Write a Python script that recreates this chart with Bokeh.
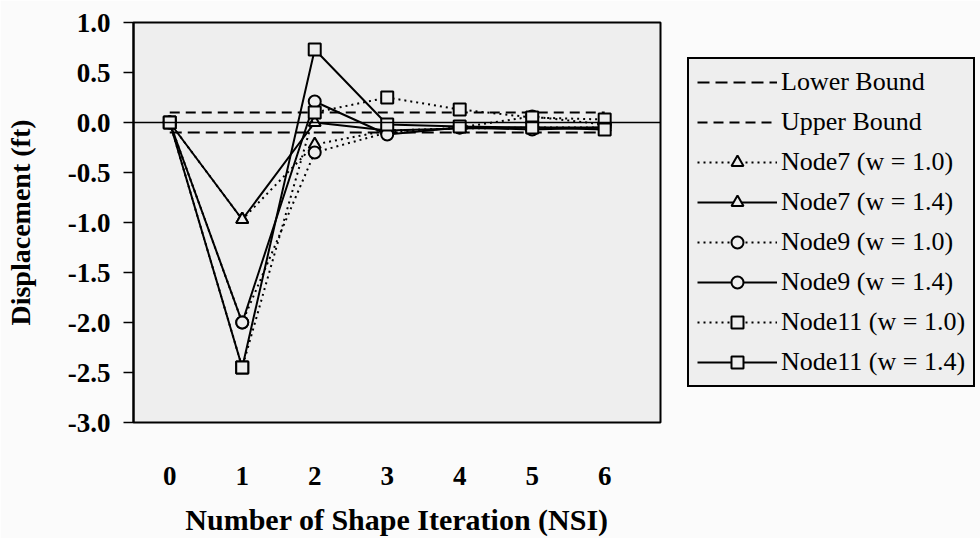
from bokeh.plotting import figure
from bokeh.models import Range1d, Legend, LegendItem, Span, FixedTicker, CustomJSTickFormatter
from bokeh.embed import file_html
from bokeh.resources import INLINE

# ---- data ----
nsi = [0, 1, 2, 3, 4, 5, 6]
lower_bound = [-0.1, -0.1, -0.1, -0.1, -0.1, -0.1, -0.1]
upper_bound = [0.1, 0.1, 0.1, 0.1, 0.1, 0.1, 0.1]
node7_w10 = [0.0, -0.97, -0.22, -0.08, -0.06, -0.05, -0.05]
node7_w14 = [0.0, -0.97, 0.00, -0.08, -0.06, -0.05, -0.05]
node9_w10 = [0.0, -2.00, -0.30, -0.10, -0.05, 0.06, -0.02]
node9_w14 = [0.0, -2.00, 0.21, -0.12, -0.05, -0.07, -0.05]
node11_w10 = [0.0, -2.45, 0.10, 0.25, 0.13, 0.05, 0.03]
node11_w14 = [0.0, -2.45, 0.73, -0.02, -0.04, -0.05, -0.07]
y_ticks = [-3.0, -2.5, -2.0, -1.5, -1.0, -0.5, 0.0, 0.5, 1.0]
x_ticks = [0, 1, 2, 3, 4, 5, 6]

FONT = "Liberation Serif"
BG = "#eeeeee"

p = figure(frame_width=527, frame_height=400, output_backend="svg", toolbar_location=None,
           x_range=Range1d(-0.5, 6.77), y_range=Range1d(-3.0, 1.0),
           min_border_left=133, min_border_right=0, min_border_top=22, min_border_bottom=108)
p.background_fill_color = BG
p.border_fill_color = "#fbfbfb"
p.outline_line_color = "black"
p.outline_line_width = 2
p.outline_line_alpha = 1
p.grid.visible = False

p.add_layout(Span(location=0, dimension="width", line_color="black", line_width=1.5))

items = []
lb = p.line(nsi, lower_bound, line_color="black", line_width=2, line_dash="12 6")
items.append(LegendItem(label="Lower Bound", renderers=[lb]))
ub = p.line(nsi, upper_bound, line_color="black", line_width=2, line_dash="10 6")
items.append(LegendItem(label="Upper Bound", renderers=[ub]))

series = [
    ("Node7 (w = 1.0)", node7_w10, "triangle", "2 4"),
    ("Node7 (w = 1.4)", node7_w14, "triangle", "solid"),
    ("Node9 (w = 1.0)", node9_w10, "circle", "2 4"),
    ("Node9 (w = 1.4)", node9_w14, "circle", "solid"),
    ("Node11 (w = 1.0)", node11_w10, "square", "2 4"),
    ("Node11 (w = 1.4)", node11_w14, "square", "solid"),
]
for label, ys, marker, dash in series:
    r1 = p.line(nsi, ys, line_color="black", line_width=2, line_dash=dash)
    r2 = p.scatter(nsi, ys, marker=marker, size=12, fill_color=BG, line_color="black", line_width=2)
    items.append(LegendItem(label=label, renderers=[r1, r2]))

legend = Legend(items=items, location="left")
legend.label_text_font = FONT
legend.label_text_font_size = "26px"
legend.label_text_color = "black"
legend.glyph_width = 80
legend.glyph_height = 30
legend.label_height = 30
legend.spacing = 10
legend.padding = 8
legend.margin = 27
legend.label_standoff = 4
legend.border_line_color = "black"
legend.border_line_width = 2
legend.border_line_alpha = 1
legend.background_fill_color = BG
legend.background_fill_alpha = 1
p.add_layout(legend, "right")

# y axis
ya = p.yaxis[0]
ya.ticker = FixedTicker(ticks=y_ticks)
ya.formatter = CustomJSTickFormatter(code="return tick.toFixed(1);")
ya.axis_label = "Displacement (ft)"
ya.axis_label_text_font = FONT
ya.axis_label_text_font_style = "bold"
ya.axis_label_text_font_size = "28px"
ya.axis_label_text_color = "black"
ya.axis_label_standoff = 29
ya.major_label_text_font = FONT
ya.major_label_text_font_style = "bold"
ya.major_label_text_font_size = "27px"
ya.major_label_text_color = "black"
ya.major_tick_out = 10
ya.major_tick_in = 0
ya.major_tick_line_width = 1.5
ya.minor_tick_line_color = None
ya.axis_line_width = 2
ya.major_label_standoff = 13

# x axis
xa = p.xaxis[0]
xa.ticker = FixedTicker(ticks=x_ticks)
xa.axis_label = "Number of Shape Iteration (NSI)"
xa.axis_label_text_font = FONT
xa.axis_label_text_font_style = "bold"
xa.axis_label_text_font_size = "30px"
xa.axis_label_text_color = "black"
xa.axis_label_standoff = 15
xa.major_label_text_font = FONT
xa.major_label_text_font_style = "bold"
xa.major_label_text_font_size = "27px"
xa.major_label_text_color = "black"
xa.major_tick_line_color = None
xa.minor_tick_line_color = None
xa.axis_line_color = None
xa.major_label_standoff = 38

open("out.html", "w").write(file_html(p, INLINE))
